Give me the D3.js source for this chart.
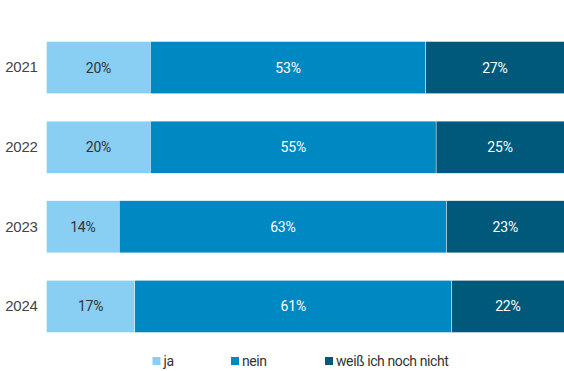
<!DOCTYPE html>
<html>
<head>
<meta charset="utf-8">
<script src="https://cdn.jsdelivr.net/npm/d3@7"></script>
<style>
body{margin:0;background:#fff;}
svg{display:block;font-family:"Roboto","Open Sans",sans-serif;}
</style>
</head>
<body>
<div id="chart"></div>
<script>
// data
let years=["2021","2022","2023","2024"];
let ja=[20,20,14,17];
let nein=[53,55,63,61];
let weiss=[27,25,23,22];
let seriesNames=["ja","nein","weiß ich noch nicht"];
let colors=["#88cff3","#0088c3","#00597a"];
let textColors=["#333333","#ffffff","#ffffff"];

let width=564, height=371;

let svg=d3.select("#chart").append("svg")
  .attr("width",width).attr("height",height);

let x=d3.scaleLinear().domain([0,100]).range([46.5,566]);
let y=d3.scaleBand().domain(years).range([28,346]).paddingInner(0.345).paddingOuter(0.17);

let rows=years.map(function(yr,i){
  let vals=[ja[i],nein[i],weiss[i]];
  let start=0;
  return vals.map(function(v,k){
    let seg={year:yr,k:k,v:v,x0:start,x1:start+v};
    start+=v;
    return seg;
  });
});
let segs=[].concat.apply([],rows);

svg.append("clipPath").attr("id","clip")
  .append("rect").attr("x",0).attr("y",0).attr("width",width).attr("height",height);

let g=svg.append("g").attr("clip-path","url(#clip)");

g.selectAll("rect.seg").data(segs).enter().append("rect")
  .attr("class","seg")
  .attr("x",d=>x(d.x0))
  .attr("y",d=>y(d.year))
  .attr("width",d=>x(d.x1)-x(d.x0))
  .attr("height",y.bandwidth())
  .attr("fill",d=>colors[d.k])
  .attr("stroke","#ffffff")
  .attr("stroke-width",0.4);

// labels centred in the visible part of each segment
svg.selectAll("text.val").data(segs).enter().append("text")
  .attr("class","val")
  .attr("x",d=>(x(d.x0)+Math.min(x(d.x1),width))/2)
  .attr("y",d=>y(d.year)+y.bandwidth()/2)
  .attr("dy","0.35em")
  .attr("text-anchor","middle")
  .attr("font-size",14)
  .attr("letter-spacing",-0.2)
  .attr("fill",d=>textColors[d.k])
  .text(d=>d.v+"%");

// year axis
let yAxis=d3.axisLeft(y).tickSize(0).tickPadding(9);
let ya=svg.append("g").attr("transform","translate(46.5,0)").call(yAxis);
ya.select(".domain").remove();
ya.selectAll("text").attr("font-size",15).attr("letter-spacing",-0.3).attr("fill","#444").attr("font-family","inherit");

// legend
let legX=[152.5,231,325];
let leg=svg.selectAll("g.leg").data(seriesNames).enter().append("g")
  .attr("class","leg")
  .attr("transform",(d,i)=>"translate("+legX[i]+",357)");
leg.append("rect").attr("width",8).attr("height",8).attr("fill",(d,i)=>colors[i]);
leg.append("text").attr("x",11).attr("y",4).attr("dy","0.35em")
  .attr("font-size",14).attr("letter-spacing",-0.4).attr("fill","#333").text(d=>d);
</script>
</body>
</html>
